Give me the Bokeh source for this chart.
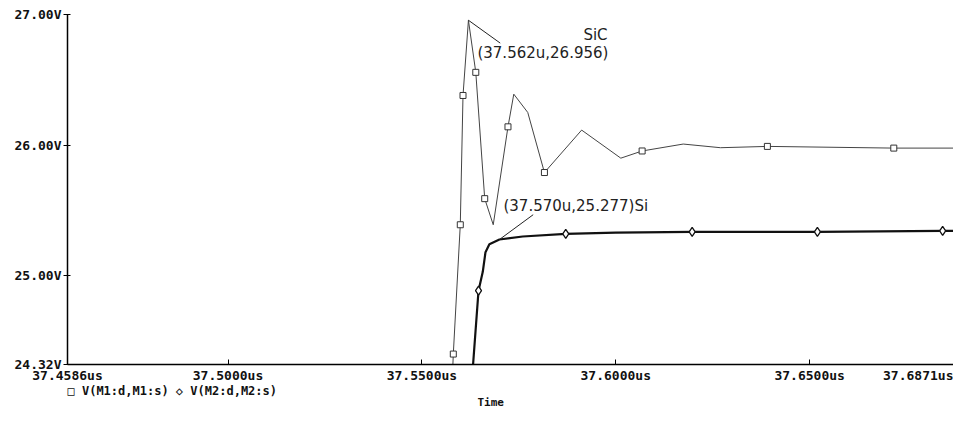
from bokeh.plotting import figure
from bokeh.models import (Range1d, FixedTicker, PrintfTickFormatter, Label,
                          Title, ColumnDataSource)
from bokeh.embed import file_html
from bokeh.resources import INLINE

# ---- data (time in microseconds, voltage in volts) ----
sic_time = [37.5579, 37.5581, 37.5599, 37.5606, 37.5620, 37.5639, 37.5662, 37.5684,
            37.5722, 37.5737, 37.5773, 37.5816, 37.5912, 37.6013, 37.6068, 37.6174,
            37.6270, 37.6391, 37.6717, 37.6871]
sic_volt = [24.25, 24.40, 25.39, 26.38, 26.956, 26.557, 25.59, 25.39,
            26.14, 26.39, 26.25, 25.79, 26.115, 25.90, 25.955, 26.008,
            25.98, 25.99, 25.977, 25.977]
sic_marked = [False, True, True, True, False, True, True, False,
              True, False, False, True, False, False, True, False,
              False, True, True, False]

si_time = [37.5630, 37.5632, 37.5646, 37.5657, 37.5664, 37.5674, 37.5700, 37.5760,
           37.5871, 37.6000, 37.6197, 37.6520, 37.6843, 37.6871]
si_volt = [24.25, 24.32, 24.885, 25.03, 25.18, 25.24, 25.277, 25.30,
           25.32, 25.33, 25.336, 25.336, 25.343, 25.343]
si_marked = [False, False, True, False, False, False, False, False,
             True, False, True, True, True, False]

x_ticks = [37.4586, 37.5000, 37.5500, 37.6000, 37.6500, 37.6871]
y_ticks = [24.32, 25.00, 26.00, 27.00]

sic_name = "V(M1:d,M1:s)"
si_name = "V(M2:d,M2:s)"
x_title = "Time"

# annotated points
sic_peak = (37.5620, 26.956)
si_knee = (37.5700, 25.277)

MONO = "DejaVu Sans Mono"

p = figure(width=953, height=408, output_backend="svg", toolbar_location=None,
           x_range=Range1d(x_ticks[0], x_ticks[-1]),
           y_range=Range1d(y_ticks[0], y_ticks[-1]),
           min_border_left=67, min_border_right=0, min_border_top=14,
           min_border_bottom=0)
p.grid.visible = False
p.outline_line_color = None
p.background_fill_color = "white"
p.border_fill_color = "white"

# axes
p.xaxis.ticker = FixedTicker(ticks=x_ticks)
p.xaxis.formatter = PrintfTickFormatter(format="%.4fus")
p.yaxis.ticker = FixedTicker(ticks=y_ticks)
p.yaxis.formatter = PrintfTickFormatter(format="%.2fV")
for ax in (p.xaxis, p.yaxis):
    ax.axis_line_color = "black"
    ax.axis_line_width = 1.5
    ax.major_tick_line_color = "black"
    ax.minor_tick_line_color = None
    ax.major_label_text_font = MONO
    ax.major_label_text_font_style = "bold"
    ax.major_label_text_font_size = "13px"
    ax.major_label_text_color = "#111111"
p.xaxis.major_tick_in = 5
p.xaxis.major_tick_out = 0
p.xaxis.major_label_standoff = 3
p.yaxis.major_tick_in = 3
p.yaxis.major_tick_out = 4
p.yaxis.major_label_standoff = 2

sic_src = ColumnDataSource(dict(t=sic_time, v=sic_volt))
si_src = ColumnDataSource(dict(t=si_time, v=si_volt))
sic_m = ColumnDataSource(dict(t=[t for t, m in zip(sic_time, sic_marked) if m],
                              v=[v for v, m in zip(sic_volt, sic_marked) if m]))
si_m = ColumnDataSource(dict(t=[t for t, m in zip(si_time, si_marked) if m],
                             v=[v for v, m in zip(si_volt, si_marked) if m]))

p.line("t", "v", source=sic_src, line_color="#444444", line_width=1)
p.scatter("t", "v", source=sic_m, marker="square", size=6,
          line_color="#333333", fill_color="white", line_width=1)
p.line("t", "v", source=si_src, line_color="#111111", line_width=2.2)
p.scatter("t", "v", source=si_m, marker="diamond", size=9,
          line_color="#111111", fill_color="white", line_width=1.3)

# annotation leader lines
p.segment(x0=[sic_peak[0], si_knee[0]], y0=[sic_peak[1], si_knee[1]],
          x1=[sic_peak[0] + 0.0082, si_knee[0] + 0.0087],
          y1=[sic_peak[1] - 0.175, si_knee[1] + 0.19],
          line_color="#222222", line_width=1)

ANN = dict(text_font="DejaVu Sans", text_font_size="15px", text_color="#222222",
           text_baseline="middle")
p.add_layout(Label(x=sic_peak[0], y=sic_peak[1], x_offset=115, y_offset=-15,
                   text="SiC", **ANN))
p.add_layout(Label(x=sic_peak[0], y=sic_peak[1], x_offset=9, y_offset=-33,
                   text="(%.3fu,%.3f)" % sic_peak, **ANN))
p.add_layout(Label(x=si_knee[0], y=si_knee[1], x_offset=4, y_offset=34,
                   text="(%.3fu,%.3f)Si" % si_knee, **ANN))

# legend row (PSpice style) and x-axis title, below the axis
legend_text = "\u25a1 %s  \u25c7 %s" % (sic_name, si_name)
p.add_layout(Title(text=legend_text, align="left", offset=0, standoff=-8,
                   text_font=MONO, text_font_style="bold", text_font_size="12px",
                   text_color="#111111"), "below")
p.add_layout(Title(text=x_title, align="left", offset=410, standoff=0,
                   text_font=MONO, text_font_style="bold", text_font_size="11px",
                   text_color="#111111"), "below")

open("out.html", "w").write(file_html(p, INLINE))
